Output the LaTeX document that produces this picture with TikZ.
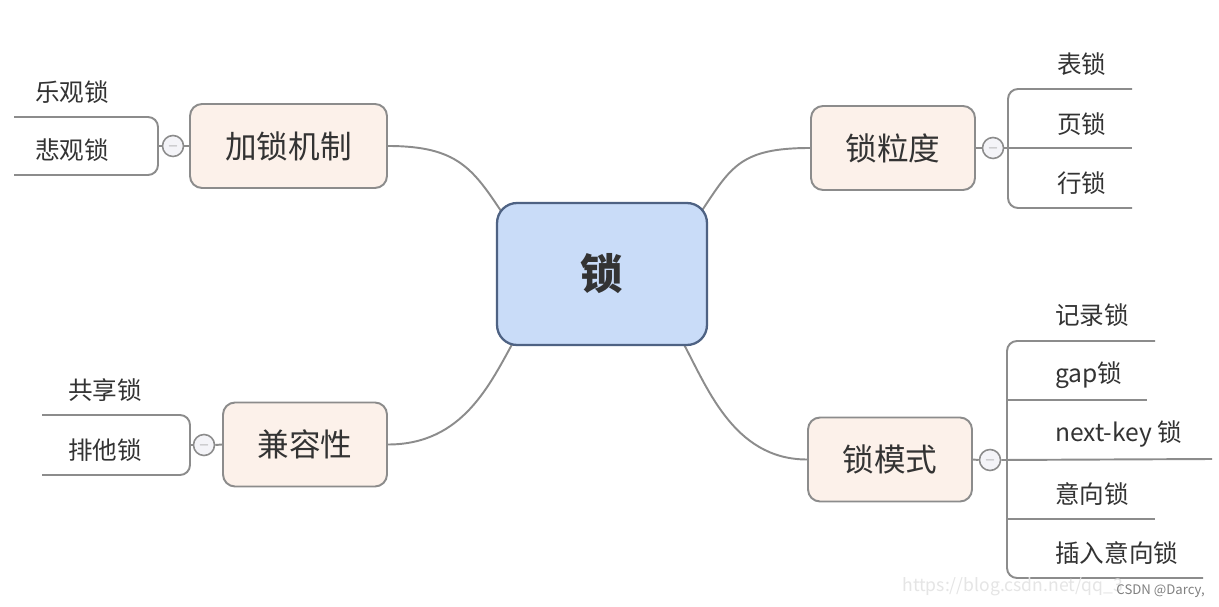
\documentclass[tikz,border=0pt]{standalone}
\usepackage{fontspec}
\setmainfont{Noto Sans CJK SC}
\usetikzlibrary{calc,backgrounds}
\definecolor{rootfill}{HTML}{C9DCF8}
\definecolor{rootline}{HTML}{4E6283}
\definecolor{boxfill}{HTML}{FCF1EA}
\definecolor{boxline}{HTML}{8C8C8C}
\definecolor{linkc}{HTML}{8C8C8C}
\definecolor{foldfill}{HTML}{F4F4F8}
\definecolor{txt}{HTML}{333333}
\begin{document}
\begin{tikzpicture}[x=0.02cm,y=-0.02cm,
  root/.style={draw=rootline,fill=rootfill,line width=1.3pt,rounded corners=0.4cm,minimum width=4.2cm,minimum height=2.84cm,font=\fontsize{24}{28}\selectfont\bfseries,text=txt},
  topic/.style={draw=boxline,fill=boxfill,line width=1.1pt,rounded corners=0.24cm,minimum height=1.68cm,font=\fontsize{18}{22}\selectfont,text=txt},
  fold/.style={circle,draw=boxline,fill=foldfill,line width=0.9pt,minimum size=0.42cm,inner sep=0pt,font=\scriptsize,text=boxline},
  leaf/.style={anchor=west,inner sep=0pt,font=\fontsize{14}{16}\selectfont,text=txt},
  link/.style={draw=linkc,line width=1.1pt}]
  \useasboundingbox (0,0) rectangle (1219,607);

  \node[root] (lock) at (602,274) {锁};

  \node[topic,minimum width=3.94cm] (mech) at (288.5,146) {加锁机制};
  \node[topic,minimum width=3.28cm] (grain) at (893,148) {锁粒度};
  \node[topic,minimum width=3.28cm] (compat) at (305,444.5) {兼容性};
  \node[topic,minimum width=3.28cm] (mode) at (890,459.5) {锁模式};

  \begin{scope}[on background layer]
  \fill[white] (0,0) rectangle (1219,607);
  \draw[link] (mech.east) .. controls +(70,0) and +(-30,-45) .. ($(lock.center)+(-99,-60)$);
  \draw[link] (grain.west) .. controls +(-70,0) and +(30,-45) .. ($(lock.center)+(99,-62)$);
  \draw[link] (compat.east) .. controls +(75,0) and +(-25,45) .. ($(lock.center)+(-87,65)$);
  \draw[link] (mode.west) .. controls +(-75,0) and +(25,45) .. ($(lock.center)+(79,65)$);
  \end{scope}

  % fold buttons
  \node[fold] (fmech) at (173,146) {$-$};
  \node[fold] (fgrain) at (993,148) {$-$};
  \node[fold] (fcompat) at (204,445) {$-$};
  \node[fold] (fmode) at (990,460) {$-$};
  \draw[link] (mech.west) -- (fmech.east);
  \draw[link] (grain.east) -- (fgrain.west);
  \draw[link] (compat.west) -- (fcompat.east);
  \draw[link] (mode.east) -- (fmode.west);

  % 加锁机制
  \node[leaf] (opt) at (35,92) {乐观锁};
  \node[leaf] (pes) at (35,150) {悲观锁};
  \draw[link] (fmech.west) -- (158,146);
  \draw[link,rounded corners=0.2cm] (14,117) -- (158,117) -- (158,175) -- (14,175);

  % 锁粒度
  \node[leaf] (tab) at (1057,64) {表锁};
  \node[leaf] (page) at (1057,124) {页锁};
  \node[leaf] (row) at (1057,183) {行锁};
  \draw[link] (fgrain.east) -- (1132,148);
  \draw[link,rounded corners=0.2cm] (1132,89) -- (1008,89) -- (1008,208) -- (1132,208);

  % 兼容性
  \node[leaf] (shr) at (68,390) {共享锁};
  \node[leaf] (exc) at (68,450) {排他锁};
  \draw[link] (fcompat.west) -- (190,445);
  \draw[link,rounded corners=0.2cm] (42,415) -- (190,415) -- (190,475) -- (42,475);

  % 锁模式
  \node[leaf] (rec) at (1055,315) {记录锁};
  \node[leaf] (gap) at (1055,375) {gap锁};
  \node[leaf] (nxt) at (1055,434) {next-key 锁};
  \node[leaf] (intent) at (1055,494) {意向锁};
  \node[leaf] (ins) at (1055,553) {插入意向锁};
  \draw[link] (fmode.east) -- (1212,459);
  \draw[link,rounded corners=0.2cm] (1155,341) -- (1007,341) -- (1007,578) -- (1203,578);
  \draw[link] (1007,400) -- (1147,400);
  \draw[link] (1007,519) -- (1155,519);

  \node[text=gray!20,font=\fontsize{10}{12}\selectfont,anchor=west,inner sep=0pt] (url) at (902,587) {https://blog.csdn.net/qq\_3};
  \node[text=gray,font=\fontsize{7.5}{9}\selectfont,anchor=east,inner sep=0pt] (csdn) at (1205,591) {CSDN @Darcy,};
\end{tikzpicture}
\end{document}
